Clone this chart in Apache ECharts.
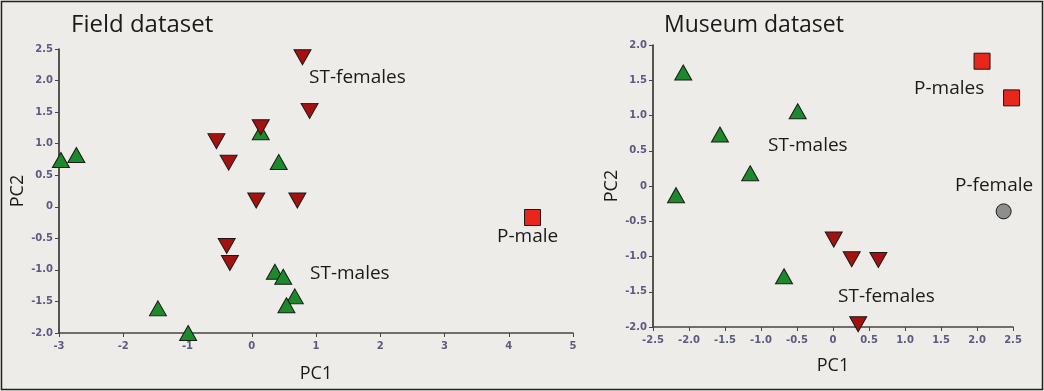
<!DOCTYPE html>
<html>
<head>
<meta charset="utf-8">
<script src="https://cdn.jsdelivr.net/npm/echarts@6/dist/echarts.min.js"></script>
<style>
html,body{margin:0;padding:0;background:#edece8;}
#chart{width:1044px;height:391px;}
</style>
</head>
<body>
<div id="chart"></div>
<script>
// ---- Field dataset ----
const fieldSTmales = [[-2.97,0.74],[-2.73,0.82],[0.14,1.18],[0.42,0.71],[0.36,-1.03],[0.49,-1.11],[0.67,-1.42],[0.54,-1.56],[-1.46,-1.61],[-0.99,-2.0]];
const fieldSTfemales = [[0.79,2.37],[0.90,1.52],[0.14,1.26],[-0.55,1.04],[-0.36,0.70],[0.07,0.10],[0.71,0.10],[-0.39,-0.62],[-0.34,-0.89]];
const fieldPmale = [[4.37,-0.17]];
// ---- Museum dataset ----
const museumSTmales = [[-2.08,1.61],[-0.49,1.06],[-1.57,0.73],[-1.15,0.18],[-2.18,-0.13],[-0.68,-1.28]];
const museumSTfemales = [[0.01,-0.76],[0.26,-1.04],[0.63,-1.05],[0.35,-1.96]];
const museumPmales = [[2.07,1.77],[2.48,1.25]];
const museumPfemale = [[2.37,-0.36]];
// ---- Texts ----
const panelTitles = ['Field dataset','Museum dataset'];
const axisNames = ['PC1','PC2'];
const fieldLabels = ['ST-females','ST-males','P-male'];
const museumLabels = ['P-males','ST-males','P-female','ST-females'];

const chart = echarts.init(document.getElementById('chart'));
const tickColor = '#5c5a80';
const fmt = v => v === 0 ? '0' : (Number.isInteger(v) ? String(v) : v.toFixed(1));
const fmtHalf = v => v === 0 ? '0' : v.toFixed(1);

function xAxis(idx, min, max, interval, gap, f){
  return {gridIndex: idx, type:'value', min, max, interval,
    name: axisNames[0], nameLocation:'middle', nameGap: gap,
    nameTextStyle:{fontFamily:'Open Sans', fontSize:18, color:'#1a1a1a'},
    axisLine:{onZero:false, lineStyle:{color:'#444', width:1.5}},
    axisTick:{show:true, length:4, lineStyle:{color:'#444'}},
    axisLabel:{formatter:f, fontFamily:'DejaVu Sans', fontSize:10, color:tickColor, margin:8, fontWeight:'bold'},
    splitLine:{show:false}};
}
function yAxis(idx, min, max, interval, gap){
  return {gridIndex: idx, type:'value', min, max, interval,
    name: axisNames[1], nameLocation:'middle', nameGap: gap, nameRotate:90,
    nameTextStyle:{fontFamily:'Open Sans', fontSize:18, color:'#1a1a1a'},
    axisLine:{onZero:false, lineStyle:{color:'#222', width:1.5}},
    axisTick:{show:true, length:4, lineStyle:{color:'#444'}},
    axisLabel:{formatter:fmtHalf, fontFamily:'DejaVu Sans', fontSize:10, color:tickColor, margin:6, fontWeight:'bold'},
    splitLine:{show:false}};
}
const border = {borderColor:'#1a1a1a', borderWidth:1};
function sc(data, xi, symbol, color, size, rotate){
  return {type:'scatter', xAxisIndex:xi, yAxisIndex:xi, data, symbol, symbolSize:size, symbolRotate:rotate||0,
    itemStyle:Object.assign({color, opacity:1}, border), emphasis:{disabled:true}, z:3};
}
const green = '#1c8a2a', darkred = '#a3120f', red = '#e8261c', grey = '#8e8e8c';
const txt = (t, x, y, size) => ({type:'text', x, y, style:{text:t, font: (size||19)+'px "Open Sans"', fill:'#1a1a1a', textVerticalAlign:'middle'}});

chart.setOption({
  backgroundColor:'#edece8',
  animation:false,
  grid:[
    {left:59, right:471, top:49, bottom:58},
    {left:653, right:31, top:45, bottom:64}
  ],
  xAxis:[xAxis(0,-3,5,1,32,fmt), xAxis(1,-2.5,2.5,0.5,30,fmtHalf)],
  yAxis:[yAxis(0,-2,2.5,0.5,29), yAxis(1,-2,2,0.5,29)],
  series:[
    sc(fieldSTmales,0,'triangle',green,[17,15]),
    sc(fieldSTfemales,0,'triangle',darkred,[17,15],180),
    sc(fieldPmale,0,'rect',red,[16,16]),
    sc(museumSTmales,1,'triangle',green,[17,15]),
    sc(museumSTfemales,1,'triangle',darkred,[17,15],180),
    sc(museumPmales,1,'rect',red,[16,16]),
    sc(museumPfemale,1,'circle',grey,[15,15])
  ],
  graphic:[
    {type:'rect', shape:{x:1.5,y:1.5,width:1041,height:388}, style:{fill:'none', stroke:'#222', lineWidth:1.5}, silent:true},
    txt(panelTitles[0], 71, 25, 24),
    txt(panelTitles[1], 664, 25, 23),
    txt(fieldLabels[0], 309, 78),
    txt(fieldLabels[1], 310, 274),
    txt(fieldLabels[2], 497, 237),
    txt(museumLabels[0], 914, 89),
    txt(museumLabels[1], 768, 146),
    txt(museumLabels[2], 955, 186),
    txt(museumLabels[3], 838, 297)
  ]
});
</script>
</body>
</html>
